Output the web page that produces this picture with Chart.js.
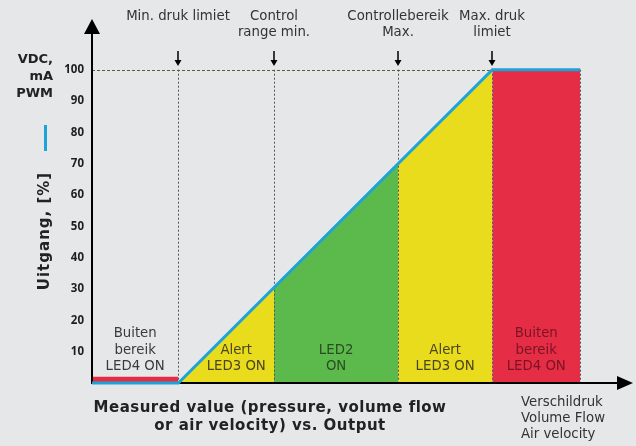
<!DOCTYPE html>
<html>
<head>
<meta charset="utf-8">
<script src="https://cdn.jsdelivr.net/npm/chart.js@4"></script>
<style>
  body { margin: 0; background: #e6e7e9; }
  #wrap { width: 636px; height: 446px; }
</style>
</head>
<body>
<div id="wrap"><canvas id="chart" width="636" height="446"></canvas></div>
<script>
// zone boundaries on the measured axis (arbitrary units, origin = y axis)
const zoneEdges = [0, 27.5, 58, 97.5, 127.5, 155.5];
// output value at the left / right edge of each zone
const zoneTopLeft = [2, 0, 30.5, 70, 100];
const zoneTopRight = [2, 30.5, 70, 100, 100];
const zoneColors = ["#e52d46", "#e8dc1c", "#5bba4b", "#e8dc1c", "#e52d46"];
const zoneLabels = [
  ["Buiten", "bereik", "LED4 ON"],
  ["Alert", "LED3 ON"],
  ["LED2", "ON"],
  ["Alert", "LED3 ON"],
  ["Buiten", "bereik", "LED4 ON"]
];
const zoneTextColors = ["#3a3a3a", "#4a4520", "#2d4a26", "#4a4520", "#7a1424"];

// output curve
const outX = [0, 27.5, 127.5, 155.5];
const outY = [0, 0, 100, 100];

// markers on top
const markerX = [27.5, 58, 97.5, 127.5];
const markerLabels = [["Min. druk limiet"], ["Control", "range min."], ["Controllebereik", "Max."], ["Max. druk", "limiet"]];

const yTicks = [10, 20, 30, 40, 50, 60, 70, 80, 90, 100];

const datasets = zoneColors.map((c, i) => ({
  data: [{ x: zoneEdges[i], y: zoneTopLeft[i] }, { x: zoneEdges[i + 1], y: zoneTopRight[i] }],
  fill: "origin",
  backgroundColor: c,
  borderColor: "transparent",
  borderWidth: 0,
  pointRadius: 0,
  tension: 0
}));
datasets.push({
  data: outX.map((x, i) => ({ x: x, y: outY[i] })),
  fill: false,
  borderColor: "#1ca4d8",
  borderWidth: 3,
  pointRadius: 0,
  tension: 0,
  clip: false
});

// small nudges for the zone captions (px)
const labelShift = [0, 10, 0, 0, 0];

const deco = {
  id: "deco",
  beforeDatasetsDraw(chart) {
    const ctx = chart.ctx;
    const xs = chart.scales.x, ys = chart.scales.y;
    const y0 = ys.getPixelForValue(0), y100 = ys.getPixelForValue(100);
    const x0 = xs.getPixelForValue(0);
    ctx.save();

    // dotted 100% line
    ctx.strokeStyle = "#5e5c34";
    ctx.lineWidth = 1;
    ctx.setLineDash([3, 2]);
    ctx.beginPath();
    ctx.moveTo(x0, Math.round(y100) + 0.5);
    ctx.lineTo(xs.getPixelForValue(zoneEdges[4]), Math.round(y100) + 0.5);
    ctx.stroke();

    // vertical dashed lines
    ctx.strokeStyle = "#555";
    ctx.setLineDash([2, 2]);
    zoneEdges.slice(1).forEach(v => {
      const px = Math.round(xs.getPixelForValue(v)) + 0.5;
      ctx.beginPath();
      ctx.moveTo(px, y100);
      ctx.lineTo(px, y0);
      ctx.stroke();
    });
    ctx.setLineDash([]);

    // zone labels
    ctx.font = "13.3px 'DejaVu Sans'";
    ctx.textAlign = "center";
    ctx.textBaseline = "middle";
    zoneLabels.forEach((lines, i) => {
      const cx = (xs.getPixelForValue(zoneEdges[i]) + xs.getPixelForValue(zoneEdges[i + 1])) / 2 + labelShift[i];
      ctx.fillStyle = zoneTextColors[i];
      const bottom = 367;
      lines.forEach((t, j) => {
        ctx.fillText(t, cx, bottom - (lines.length - 1 - j) * 16.5);
      });
    });

    // axes
    ctx.strokeStyle = "#000";
    ctx.fillStyle = "#000";
    ctx.lineWidth = 2;
    ctx.beginPath();
    ctx.moveTo(x0, y0 + 1);
    ctx.lineTo(x0, 32);
    ctx.moveTo(x0, y0);
    ctx.lineTo(620, y0);
    ctx.stroke();
    ctx.beginPath();
    ctx.moveTo(x0, 19);
    ctx.lineTo(x0 - 8, 34);
    ctx.lineTo(x0 + 8, 34);
    ctx.closePath();
    ctx.fill();
    ctx.beginPath();
    ctx.moveTo(633, y0);
    ctx.lineTo(617, y0 - 7);
    ctx.lineTo(617, y0 + 7);
    ctx.closePath();
    ctx.fill();

    // marker arrows + labels
    ctx.font = "13.3px 'DejaVu Sans'";
    markerX.forEach((v, i) => {
      const px = Math.round(xs.getPixelForValue(v));
      ctx.fillStyle = "#000";
      ctx.fillRect(px - 0.75, 51, 1.5, 10);
      ctx.beginPath();
      ctx.moveTo(px - 3.5, 60);
      ctx.lineTo(px + 3.5, 60);
      ctx.lineTo(px, 66);
      ctx.closePath();
      ctx.fill();
      ctx.fillStyle = "#333";
      markerLabels[i].forEach((t, j) => ctx.fillText(t, px, 17 + j * 16));
    });

    // bottom-right label
    ctx.textAlign = "left";
    ["Verschildruk", "Volume Flow", "Air velocity"].forEach((t, j) => ctx.fillText(t, 521, 403 + j * 16));

    // x title
    ctx.font = "bold 15px 'DejaVu Sans'";
    ctx.letterSpacing = "0.5px";
    ctx.textAlign = "center";
    ctx.fillStyle = "#222";
    ctx.fillText("Measured value (pressure, volume flow", 270, 408);
    ctx.fillText("or air velocity) vs. Output", 270, 426);
    ctx.letterSpacing = "0px";

    // y title
    ctx.font = "bold 13px 'DejaVu Sans'";
    ctx.textAlign = "right";
    ["VDC,", "mA", "PWM"].forEach((t, j) => ctx.fillText(t, 53, 60 + j * 17));
    ctx.fillStyle = "#1ca4d8";
    ctx.fillRect(44, 125, 3, 26);
    ctx.save();
    ctx.translate(45, 231);
    ctx.rotate(-Math.PI / 2);
    ctx.textAlign = "center";
    ctx.fillStyle = "#222";
    ctx.font = "bold 15px 'DejaVu Sans'";
    ctx.letterSpacing = "1px";
    ctx.fillText("Uitgang, [%]", 0, 0);
    ctx.restore();

    ctx.restore();
  }
};

new Chart(document.getElementById("chart"), {
  type: "line",
  data: { datasets: datasets },
  options: {
    responsive: false,
    animation: false,
    layout: { padding: { top: 18, right: 4, bottom: 63, left: 0 } },
    plugins: {
      legend: { display: false },
      tooltip: { enabled: false },
      filler: { drawTime: "beforeDatasetsDraw" }
    },
    scales: {
      x: { type: "linear", min: 0, max: 172, display: false },
      y: {
        min: 0,
        max: 116.5,
        afterFit(s) { s.width = 92; },
        afterBuildTicks(s) { s.ticks = yTicks.map(v => ({ value: v })); },
        grid: { display: false, drawTicks: false },
        border: { display: false },
        ticks: {
          padding: 8,
          color: "#1e1e1e",
          font: { family: "'Open Sans'", weight: "bold", size: 11.5 }
        }
      }
    }
  },
  plugins: [deco]
});
</script>
</body>
</html>
